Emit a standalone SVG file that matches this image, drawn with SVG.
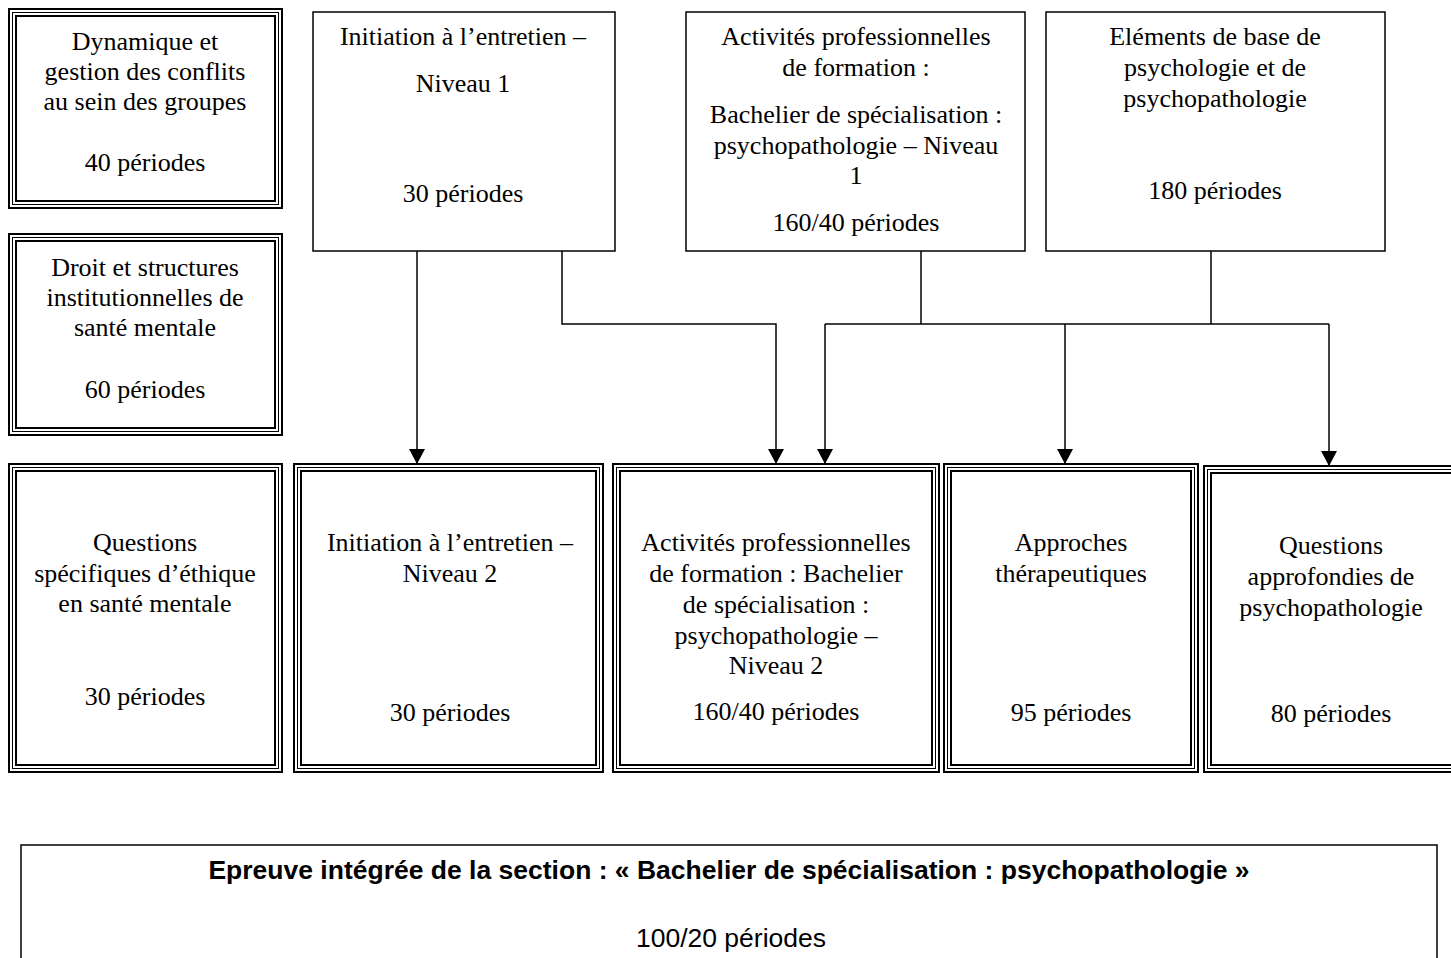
<svg xmlns="http://www.w3.org/2000/svg" width="1451" height="958" viewBox="0 0 1451 958">
<style>
  .o{fill:none;stroke:#000;stroke-width:2}
  .m{fill:none;stroke:#000;stroke-width:1}
  .s{fill:none;stroke:#000;stroke-width:1.5}
  .t{font-family:"Liberation Serif","Times New Roman",serif;font-size:26px;fill:#000;text-anchor:middle}
  .b{font-family:"Liberation Sans",Arial,sans-serif;font-size:26.5px;fill:#000;text-anchor:middle}
  .c{fill:none;stroke:#000;stroke-width:1.5}
</style>
<defs>
  <marker id="ah" markerWidth="16" markerHeight="16" refX="8" refY="15" orient="0" markerUnits="userSpaceOnUse" viewBox="0 0 16 15">
    <path d="M0,0 L16,0 L8,15 Z" fill="#000"/>
  </marker>
</defs>
<rect width="1451" height="958" fill="#fff"/>

<g id="dynamique">
  <rect class="o" x="9" y="9" width="273" height="199"/>
  <rect class="m" x="12.5" y="12.5" width="266" height="192"/>
  <rect class="o" x="16" y="16" width="259" height="185"/>
  <text class="t" x="145" y="50">Dynamique et</text>
  <text class="t" x="145" y="80">gestion des conflits</text>
  <text class="t" x="145" y="110">au sein des groupes</text>
  <text class="t" x="145" y="171">40 périodes</text>
</g>

<g id="droit">
  <rect class="o" x="9" y="234" width="273" height="201"/>
  <rect class="m" x="12.5" y="237.5" width="266" height="194"/>
  <rect class="o" x="16" y="241" width="259" height="187"/>
  <text class="t" x="145" y="276">Droit et structures</text>
  <text class="t" x="145" y="306">institutionnelles de</text>
  <text class="t" x="145" y="336">santé mentale</text>
  <text class="t" x="145" y="398">60 périodes</text>
</g>

<g id="ethique">
  <rect class="o" x="9" y="464" width="273" height="308"/>
  <rect class="m" x="12.5" y="467.5" width="266" height="301"/>
  <rect class="o" x="16" y="471" width="259" height="294"/>
  <text class="t" x="145" y="551">Questions</text>
  <text class="t" x="145" y="582">spécifiques d’éthique</text>
  <text class="t" x="145" y="612">en santé mentale</text>
  <text class="t" x="145" y="705">30 périodes</text>
</g>

<g id="entretien1">
  <rect class="s" x="313" y="12" width="302" height="239"/>
  <text class="t" x="463" y="45">Initiation à l’entretien –</text>
  <text class="t" x="463" y="92">Niveau 1</text>
  <text class="t" x="463" y="202">30 périodes</text>
</g>

<g id="activites1">
  <rect class="s" x="686" y="12" width="339" height="239"/>
  <text class="t" x="856" y="45">Activités professionnelles</text>
  <text class="t" x="856" y="76">de formation :</text>
  <text class="t" x="856" y="123">Bachelier de spécialisation :</text>
  <text class="t" x="856" y="154">psychopathologie – Niveau</text>
  <text class="t" x="856" y="184">1</text>
  <text class="t" x="856" y="231">160/40 périodes</text>
</g>

<g id="elements">
  <rect class="s" x="1046" y="12" width="339" height="239"/>
  <text class="t" x="1215" y="45">Eléments de base de</text>
  <text class="t" x="1215" y="76">psychologie et de</text>
  <text class="t" x="1215" y="107">psychopathologie</text>
  <text class="t" x="1215" y="199">180 périodes</text>
</g>

<g id="entretien2">
  <rect class="o" x="294" y="464" width="309" height="308"/>
  <rect class="m" x="297.5" y="467.5" width="302" height="301"/>
  <rect class="o" x="301" y="471" width="295" height="294"/>
  <text class="t" x="450" y="551">Initiation à l’entretien –</text>
  <text class="t" x="450" y="582">Niveau 2</text>
  <text class="t" x="450" y="721">30 périodes</text>
</g>

<g id="activites2">
  <rect class="o" x="613" y="464" width="326" height="308"/>
  <rect class="m" x="616.5" y="467.5" width="319" height="301"/>
  <rect class="o" x="620" y="471" width="312" height="294"/>
  <text class="t" x="776" y="551">Activités professionnelles</text>
  <text class="t" x="776" y="582">de formation : Bachelier</text>
  <text class="t" x="776" y="613">de spécialisation :</text>
  <text class="t" x="776" y="644">psychopathologie –</text>
  <text class="t" x="776" y="674">Niveau 2</text>
  <text class="t" x="776" y="720">160/40 périodes</text>
</g>

<g id="approches">
  <rect class="o" x="944" y="464" width="254" height="308"/>
  <rect class="m" x="947.5" y="467.5" width="247" height="301"/>
  <rect class="o" x="951" y="471" width="240" height="294"/>
  <text class="t" x="1071" y="551">Approches</text>
  <text class="t" x="1071" y="582">thérapeutiques</text>
  <text class="t" x="1071" y="721">95 périodes</text>
</g>

<g id="approfondies">
  <rect class="o" x="1204" y="466" width="262" height="306"/>
  <rect class="m" x="1207.5" y="469.5" width="255" height="299"/>
  <rect class="o" x="1211" y="473" width="248" height="292"/>
  <text class="t" x="1331" y="554">Questions</text>
  <text class="t" x="1331" y="585">approfondies de</text>
  <text class="t" x="1331" y="616">psychopathologie</text>
  <text class="t" x="1331" y="722">80 périodes</text>
</g>

<g id="epreuve">
  <rect class="s" x="21" y="845" width="1416" height="130"/>
  <text class="b" x="729" y="879" font-weight="bold">Epreuve intégrée de la section : « Bachelier de spécialisation : psychopathologie »</text>
  <text class="b" x="731" y="947">100/20 périodes</text>
</g>

<g id="connectors">
  <path class="c" d="M417,251 V464" marker-end="url(#ah)"/>
  <path class="c" d="M562,251 V324 H776 V464" marker-end="url(#ah)"/>
  <path class="c" d="M921,251 V324"/>
  <path class="c" d="M1211,251 V324"/>
  <path class="c" d="M825,324 H1329"/>
  <path class="c" d="M825,324 V464" marker-end="url(#ah)"/>
  <path class="c" d="M1065,324 V464" marker-end="url(#ah)"/>
  <path class="c" d="M1329,324 V466" marker-end="url(#ah)"/>
</g>
</svg>
